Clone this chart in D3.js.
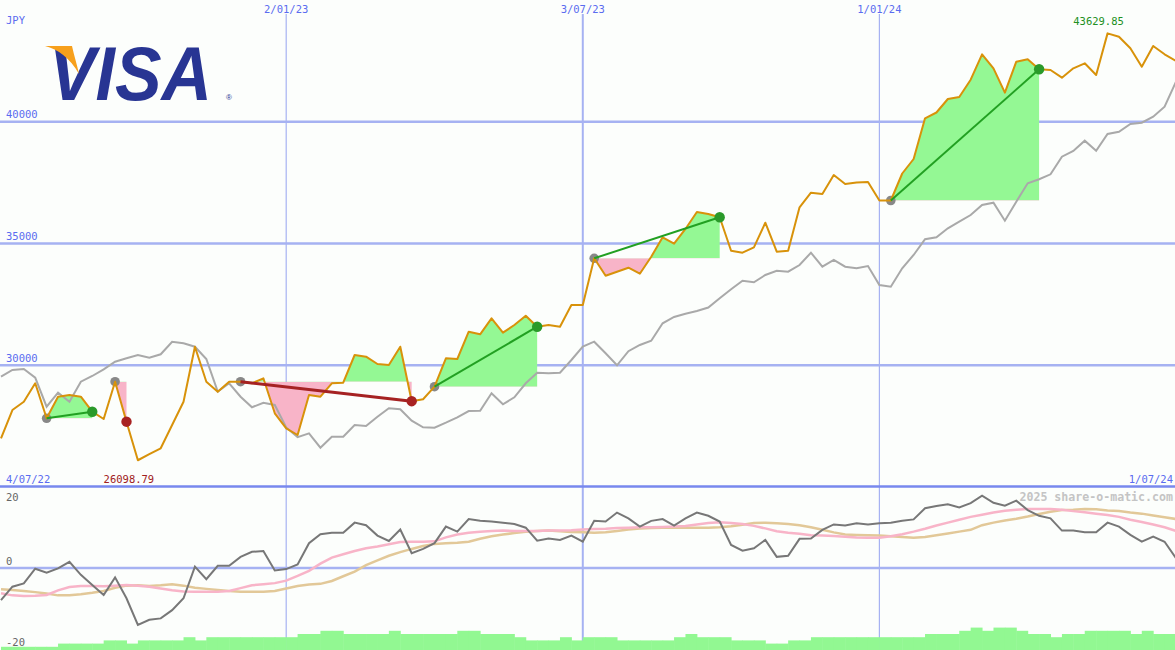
<!DOCTYPE html>
<html><head><meta charset="utf-8">
<script src="https://cdn.jsdelivr.net/npm/d3@7"></script>
<style>
html,body{margin:0;padding:0;background:#fcfefc;}
svg{display:block;}
text.lbl{font-family:"DejaVu Sans Mono",monospace;}
</style></head><body>
<svg id="c" width="1175" height="650"></svg>
<script>
// ---------- data ----------
const firstWeek = "2022-07-11";
const lastWeek = "2024-07-01";
const startLabel = "4/07/22";
const endLabel = "1/07/24";
const currency = "JPY";

// weekly close, JPY
const price = [27000,28162,28503,29259,27821,28708,28778,28708,28092,27793,
29324,27682,26098.79,26350,26589,27546,28503,30762,29324,28914,
29324,29324,29259,29464,28027,27411,27136,28778,28708,29259,
29283,30421,30351,30051,30010,30762,28524,28602,29119,30285,
30257,31378,31271,31928,31337,31653,32035,31583,31653,31583,
32474,32474,34392,33678,33842,34006,33760,34458,35255,34992,
35596,36294,36212,36076,34704,34622,34844,35854,34663,34704,
36487,37086,37033,37813,37444,37505,37526,36766,36766,37875,
38470,40142,40380,40934,41017,41727,42770,42195,41193,42466,
42565,42154,42125,41809,42195,42400,41920,43629.85,43493,43016,
42261,43111,42770,42495];

// grey comparison line (main panel)
const compare = [29530,29805,29846,29489,28298,28873,28503,29324,29559,29834,
30146,30285,30421,30310,30450,30967,30901,30762,30257,28914,
29259,28708,28273,28462,28368,27444,27045,27205,26614,27066,
27066,27546,27505,27887,28232,28191,27723,27452,27435,27641,
27862,28121,28133,28848,28396,28684,29259,29694,29669,29694,
30216,30762,30967,30491,29998,30577,30832,31008,31723,31982,
32113,32228,32372,32750,33119,33468,33407,33706,33883,33842,
34117,34622,34047,34322,34047,33982,34076,33296,33226,33982,
34528,35173,35255,35624,35895,36170,36581,36676,35937,36717,
37472,37637,37842,38565,38799,39222,38811,39497,39591,39908,
39961,40207,40618,41645];

// lower panel: momentum (grey), fast average (pink), slow average (tan)
const momentum = [-8.9,-5.2,-4.3,-0.2,-1.3,-0.1,1.7,-1.9,-4.7,-7.5,
-2.6,-8.4,-15.8,-14.4,-14.0,-11.7,-8.4,0.4,-3.1,0.6,
0.6,3.1,4.5,4.7,-0.7,-0.3,1.0,6.9,9.4,9.8,
9.8,12.6,11.9,9.0,7.5,10.7,4.1,5.3,6.9,11.5,
10.1,13.6,13.1,12.9,12.6,12.2,11.2,7.6,8.2,7.8,
9.0,7.3,13.1,12.9,15.4,13.8,11.5,13.1,13.6,11.8,
13.8,15.4,14.5,12.9,6.4,4.8,5.5,7.8,3.1,3.4,
8.1,8.2,10.6,12.1,11.8,12.4,12.1,12.4,12.6,13.1,
13.5,16.6,17.2,17.7,16.8,18.0,20.1,18.1,17.3,18.7,
16.1,14.5,13.8,10.4,10.4,9.9,9.9,12.6,11.5,9.2,
7.3,8.7,7.3,2.7];

const fastAvg = [-7.0,-7.6,-7.8,-7.7,-7.5,-6.2,-5.3,-5.0,-5.0,-5.1,
-4.9,-4.7,-4.9,-5.2,-5.7,-6.2,-6.5,-6.6,-6.6,-6.6,
-6.4,-5.6,-4.8,-4.5,-4.2,-3.5,-2.2,-0.8,1.2,2.9,
3.8,4.7,5.5,6.0,6.6,7.2,7.3,7.3,7.4,8.5,
9.3,9.8,10.1,10.3,10.4,10.3,10.3,10.3,10.4,10.4,
10.5,10.7,10.8,10.9,11.1,11.2,11.3,11.3,11.4,11.5,
11.7,12.1,12.5,12.7,12.5,12.2,11.7,11.0,10.2,9.8,
9.5,9.1,9.0,8.9,8.7,8.5,8.4,8.4,8.8,9.4,
10.1,10.9,11.8,12.6,13.4,14.2,14.8,15.4,15.9,16.2,
16.4,16.4,16.4,16.2,15.8,15.5,15.1,14.7,14.2,13.4,
12.8,12.1,11.3,10.3];

const slowAvg = [-5.9,-6.1,-6.4,-6.7,-7.1,-7.6,-7.6,-7.3,-6.9,-6.4,
-5.5,-4.9,-4.8,-5.0,-4.8,-4.5,-4.9,-5.5,-5.8,-6.1,
-6.4,-6.6,-6.6,-6.6,-6.4,-5.7,-5.0,-4.6,-4.4,-3.6,
-2.3,-1.0,0.8,2.1,3.4,4.4,5.3,6.1,6.7,6.9,
7.0,7.3,8.1,8.8,9.3,9.7,10.1,10.3,10.4,10.2,
10.0,9.9,9.8,9.9,10.3,10.7,11.0,11.1,11.2,11.2,
11.2,11.2,11.2,11.3,11.6,12.0,12.5,12.6,12.4,12.2,
11.9,11.3,10.6,9.9,9.3,9.2,9.1,9.0,8.8,8.6,
8.4,8.6,9.1,9.6,10.1,10.6,11.9,12.6,13.2,13.7,
14.3,15.0,15.6,16.1,16.2,16.4,16.3,16.0,15.8,15.4,
15.1,14.6,14.1,13.6];

// relative volume levels
const volume = [1,1,1,1,1,2,2,2,2,3,
3,2,3,3,3,3,4,3,4,4,
4,4,4,4,4,4,5,5,6,6,
5,5,5,5,6,5,5,5,5,5,
6,6,5,5,5,4,3,3,3,4,
3,4,4,4,3,3,3,3,3,4,
5,4,4,4,3,3,3,2,2,3,
3,4,4,4,4,4,4,4,4,4,
4,5,5,5,6,7,6,7,7,6,
5,5,4,5,5,6,6,6,6,5,
6,5,5,5];

// trend annotations (week indices)
const trendStart = [4,10,21,38,52,78];
const trendEnd   = [8,11,36,47,63,91];

const priceTicks = [30000,35000,40000];
const lowerTicks = [20,0,-20];
const dateTicks = ["2023-01-02","2023-07-03","2024-01-01"];

// ---------- scales ----------
const parse = d3.utcParse("%Y-%m-%d");
const fmt = d3.utcFormat("%-d/%m/%y");
const t0 = parse(firstWeek);
const dates = price.map((_, i) => d3.utcDay.offset(t0, 7 * i));

const W = 1175, H = 650, SEP = 487;
const svg = d3.select("#c");
svg.append("rect").attr("width", W).attr("height", H).attr("fill", "#fcfefc");

const x = d3.scaleUtc().domain([t0, parse(lastWeek)]).range([1, 1176]);
const y = d3.scaleLinear().domain([25000, 45000]).range([SEP, 0]);
const yl = d3.scaleLinear().domain([-20, 20]).range([640, 496]);
const yv = d3.scaleLinear().domain([0, 7]).range([H, H - 22.4]);

const xi = i => x(dates[i]);
const label = (g) => g.append("text").attr("class", "lbl");

// ---------- grid ----------
const grid = svg.append("g");
dateTicks.forEach((d, k) => {
  const xx = x(parse(d));
  grid.append("line").attr("x1", xx).attr("x2", xx).attr("y1", 14).attr("y2", H)
    .attr("stroke", "#a6b2f2").attr("stroke-width", k === 1 ? 2 : 1.2);
  label(svg).attr("x", xx).attr("y", 13).attr("text-anchor", "middle")
    .attr("font-size", "10.5px").attr("fill", "#5a6cf0").text(fmt(parse(d)));
});
priceTicks.forEach(v => {
  grid.append("line").attr("x1", 0).attr("x2", W).attr("y1", y(v)).attr("y2", y(v))
    .attr("stroke", "#a6b2f2").attr("stroke-width", 2.5);
  label(svg).attr("x", 6).attr("y", y(v) - 3.5)
    .attr("font-size", "10.5px").attr("fill", "#5a6cf0").text(v);
});
grid.append("line").attr("x1", 0).attr("x2", W).attr("y1", yl(0)).attr("y2", yl(0))
  .attr("stroke", "#a6b2f2").attr("stroke-width", 2.3);
grid.append("line").attr("x1", 0).attr("x2", W).attr("y1", SEP - 0.5).attr("y2", SEP - 0.5)
  .attr("stroke", "#7888ee").attr("stroke-width", 2.5);

// ---------- trend fills ----------
const defs = svg.append("defs");
const fills = svg.append("g");
trendStart.forEach((s, k) => {
  const e = trendEnd[k];
  const base = y(price[s]);
  const idx = d3.range(s, e + 1);
  const area = d3.area().x(i => xi(i)).y0(base).y1(i => y(price[i]));
  const ca = "above" + k, cb = "below" + k;
  defs.append("clipPath").attr("id", ca).append("rect")
    .attr("x", 0).attr("y", 0).attr("width", W).attr("height", base);
  defs.append("clipPath").attr("id", cb).append("rect")
    .attr("x", 0).attr("y", base).attr("width", W).attr("height", SEP - base);
  fills.append("path").datum(idx).attr("d", area).attr("fill", "#94f894")
    .attr("clip-path", `url(#${ca})`);
  fills.append("path").datum(idx).attr("d", area).attr("fill", "#f8b4c8")
    .attr("clip-path", `url(#${cb})`);
});

// ---------- main lines ----------
const idxAll = d3.range(price.length);
svg.append("path").datum(idxAll)
  .attr("d", d3.line().x(i => xi(i)).y(i => y(compare[i])))
  .attr("fill", "none").attr("stroke", "#a9a9a9").attr("stroke-width", 2);

trendStart.forEach(s => {
  svg.append("circle").attr("cx", xi(s)).attr("cy", y(price[s])).attr("r", 4.8).attr("fill", "#888");
});

svg.append("path").datum(idxAll)
  .attr("d", d3.line().x(i => xi(i)).y(i => y(price[i])))
  .attr("fill", "none").attr("stroke", "#d8920a").attr("stroke-width", 2).attr("stroke-linejoin", "round");

trendStart.forEach((s, k) => {
  const e = trendEnd[k];
  const up = price[e] >= price[s];
  if (e - s > 1) {
    svg.append("line").attr("x1", xi(s)).attr("y1", y(price[s])).attr("x2", xi(e)).attr("y2", y(price[e]))
      .attr("stroke", up ? "#22a022" : "#a52222").attr("stroke-width", up ? 2 : 3);
  }
  svg.append("circle").attr("cx", xi(e)).attr("cy", y(price[e])).attr("r", 5.2)
    .attr("fill", up ? "#2a9a2a" : "#a82222");
});

// ---------- labels ----------
label(svg).attr("x", 6).attr("y", 24).attr("font-size", "10.5px").attr("fill", "#5a6cf0").text(currency);
label(svg).attr("x", 6).attr("y", 483).attr("font-size", "10.5px").attr("fill", "#5a6cf0").text(startLabel);
label(svg).attr("x", 1173).attr("y", 483).attr("text-anchor", "end").attr("font-size", "10.5px").attr("fill", "#5a6cf0").text(endLabel);
const iMin = d3.minIndex(price), iMax = d3.maxIndex(price);
label(svg).attr("x", xi(iMin) - 9).attr("y", 483).attr("text-anchor", "middle")
  .attr("font-size", "10.5px").attr("fill", "#a02020").text(price[iMin].toFixed(2));
label(svg).attr("x", xi(iMax) - 9).attr("y", 25).attr("text-anchor", "middle")
  .attr("font-size", "10.5px").attr("fill", "#229022").text(price[iMax].toFixed(2));

// ---------- lower panel ----------
const vol = svg.append("g");
volume.forEach((v, i) => {
  vol.append("rect").attr("x", xi(i)).attr("y", yv(v))
    .attr("width", xi(Math.min(i + 1, price.length - 1)) - xi(i) + (i === price.length - 1 ? 12 : 0.5))
    .attr("height", H - yv(v)).attr("fill", "#92f892");
});
const lline = arr => d3.line().x(i => xi(i)).y(i => yl(arr[i]));
svg.append("path").datum(idxAll).attr("d", lline(slowAvg)).attr("fill", "none")
  .attr("stroke", "#e2c898").attr("stroke-width", 2.5);
svg.append("path").datum(idxAll).attr("d", lline(fastAvg)).attr("fill", "none")
  .attr("stroke", "#f8b4c8").attr("stroke-width", 2.5);
svg.append("path").datum(idxAll).attr("d", lline(momentum)).attr("fill", "none")
  .attr("stroke", "#777").attr("stroke-width", 2);

lowerTicks.forEach(v => {
  label(svg).attr("x", 6).attr("y", v === 0 ? yl(v) - 3.5 : yl(v) + (v > 0 ? 4.5 : 6))
    .attr("font-size", "10.5px").attr("fill", "#666").text(v);
});
label(svg).attr("x", 1173).attr("y", 501).attr("text-anchor", "end")
  .attr("font-size", "11.6px").attr("font-weight", "bold").attr("fill", "#c4c4c4").text("2025 share-o-matic.com");

// ---------- logo ----------
const logo = svg.append("g");
logo.append("text").attr("x", 49).attr("y", 100)
  .style("font-family", "'Liberation Sans', Arial, sans-serif").attr("font-weight", "bold")
  .attr("font-style", "italic").attr("font-size", "76px").attr("fill", "#283593")
  .attr("textLength", 163).attr("lengthAdjust", "spacingAndGlyphs").text("VISA");
logo.append("path").attr("d", "M45,46 L72,46 C74,55 77,65 79,74 C70,58 58,49 45,46 Z").attr("fill", "#f7a01c");
logo.append("text").attr("x", 226).attr("y", 100)
  .style("font-family", "'Liberation Sans', Arial, sans-serif").attr("font-size", "8px").attr("fill", "#283593").text("®");
</script>
</body></html>
